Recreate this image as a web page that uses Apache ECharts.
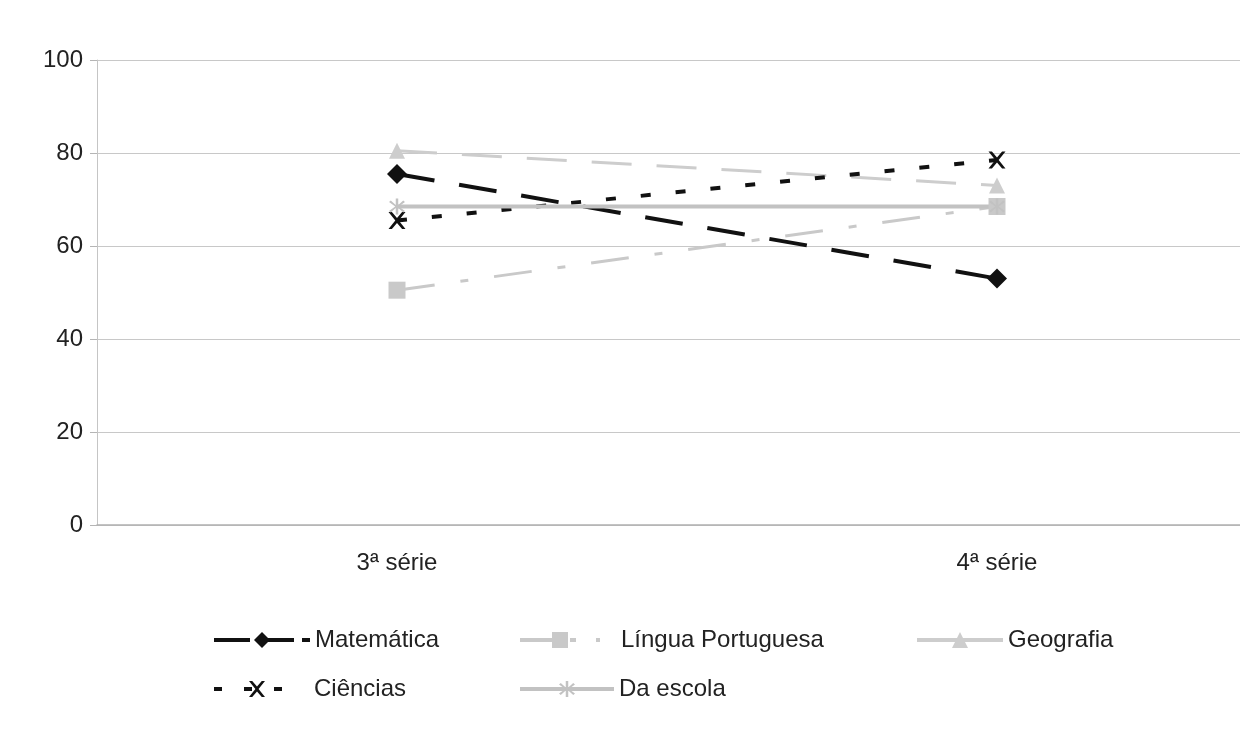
<!DOCTYPE html>
<html><head><meta charset="utf-8">
<script src="https://cdn.jsdelivr.net/npm/echarts@6/dist/echarts.min.js"></script>
<style>html,body{margin:0;padding:0;background:#fff}#c{width:1240px;height:737px}</style>
</head><body><div id="c"></div>
<script>
const categories = ['3ª série', '4ª série'];
const yTicks = [0, 20, 40, 60, 80, 100];
const matematica = [75.5, 53];
const linguaPortuguesa = [50.5, 68.5];
const geografia = [80.5, 73];
const ciencias = [65.5, 78.5];
const daEscola = [68.5, 68.5];

const FONT = '"Liberation Sans", Arial, sans-serif';
const chart = echarts.init(document.getElementById('c'));

const seriesDefs = [
  {name:'Matemática', data:matematica, color:'#111', width:4, dash:[38,25], symbol:'diamond', size:20},
  {name:'Língua Portuguesa', data:linguaPortuguesa, color:'#c9c9c9', width:3, dash:[38,26,8,26], symbol:'rect', size:17},
  {name:'Geografia', data:geografia, color:'#cdcdcd', width:3, dash:[40,25], symbol:'triangle', size:16},
  {name:'Ciências', data:ciencias, color:'#111', width:4, dash:[10,25], symbol:'path://M0,0L2,0L5,3.5L8,0L10,0L6,5L10,10L8,10L5,6.5L2,10L0,10L4,5Z', size:17},
  {name:'Da escola', data:daEscola, color:'#c2c2c2', width:4, dash:'solid', symbol:'path://M4.3,0H5.7V4L8.5,1.2L9.5,2.2L6,5L9.5,7.8L8.5,8.8L5.7,6V10H4.3V6L1.5,8.8L0.5,7.8L4,5L0.5,2.2L1.5,1.2L4.3,4Z', size:16}
];

const legendCfg = [
  {left:212, top:628, w:96, pad:0, lw:4, dash:[36,8]},
  {left:518, top:628, w:80, pad:16, lw:4, dash:[36,14,6,20]},
  {left:915, top:628, w:86, pad:0, lw:4, dash:[40,6]},
  {left:212, top:677, w:86, pad:9, lw:4, dash:[8,22]},
  {left:518, top:677, w:94, pad:0, lw:4, dash:'solid'}
];

chart.setOption({
  animation:false,
  backgroundColor:'#fff',
  textStyle:{fontFamily:FONT},
  grid:{left:97, top:60, right:-57, bottom:212, containLabel:false, outerBoundsMode:'none'},
  legend: seriesDefs.map((s,i)=>({
    data:[s.name], left:legendCfg[i].left, top:legendCfg[i].top, padding:0,
    itemWidth:legendCfg[i].w, itemHeight:20, itemGap:0,
    lineStyle:{width:legendCfg[i].lw, type:legendCfg[i].dash},
    textStyle:{fontFamily:FONT, fontSize:24, color:'#222', padding:[0,0,0,legendCfg[i].pad]},
    selectedMode:false
  })),
  xAxis:{
    type:'category', data:categories, boundaryGap:true,
    axisLine:{show:true, lineStyle:{color:'#b0b0b0', width:1.5}},
    axisTick:{show:false},
    axisLabel:{fontFamily:FONT, fontSize:24, color:'#222', margin:26},
    splitLine:{show:false}
  },
  yAxis:{
    type:'value', min:0, max:100, interval:20,
    axisLine:{show:true, lineStyle:{color:'#c5c5c5', width:1}},
    axisTick:{show:true, length:7, lineStyle:{color:'#b5b5b5'}},
    axisLabel:{fontFamily:FONT, fontSize:24, color:'#222', margin:14,
      formatter:v=>yTicks.includes(v)?String(v):''},
    splitLine:{show:true, lineStyle:{color:'#c8c8c8', width:1.2}}
  },
  series: seriesDefs.map(s=>({
    name:s.name, type:'line', data:s.data,
    symbol:s.symbol, symbolSize:s.size, showSymbol:true,
    lineStyle:{color:s.color, width:s.width, type:s.dash},
    itemStyle:{color:s.color, borderWidth:0},
    emphasis:{disabled:true}
  }))
});
</script>
</body></html>
